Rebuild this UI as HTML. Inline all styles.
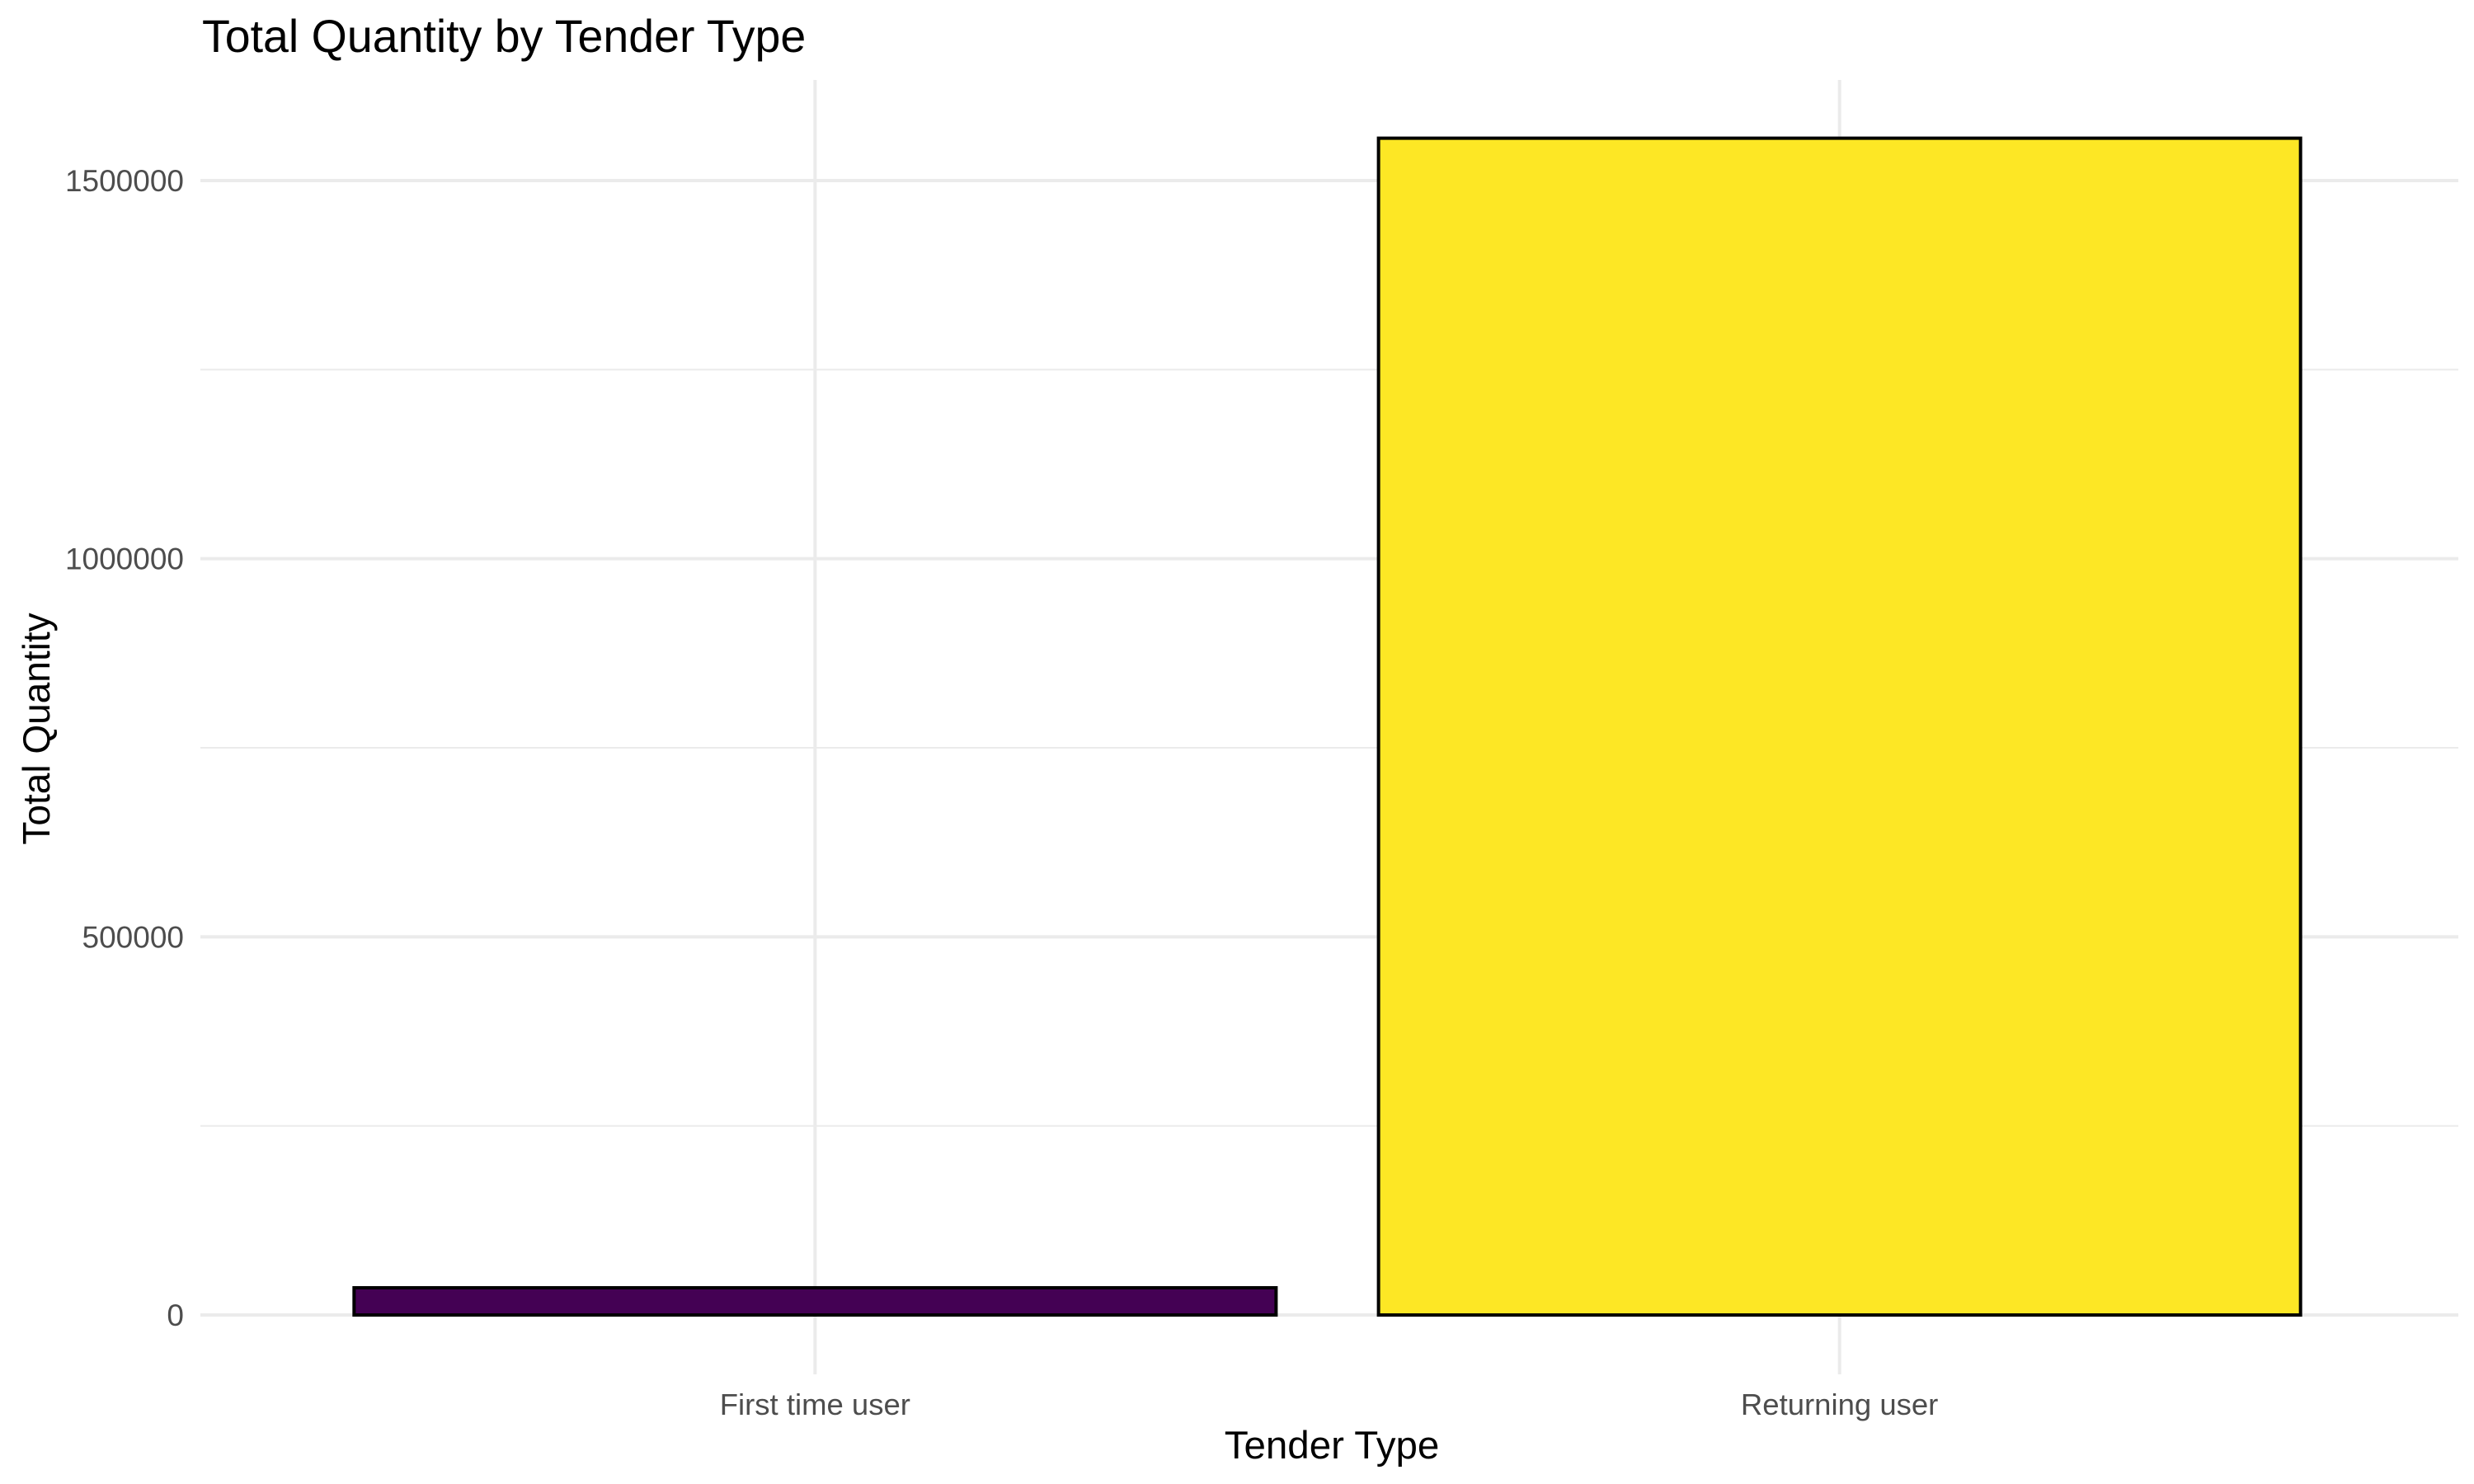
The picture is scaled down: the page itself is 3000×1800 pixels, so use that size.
<!DOCTYPE html>
<html><head><meta charset="utf-8"><style>
html,body{margin:0;padding:0;background:#fff}
svg{display:block;font-family:"Liberation Sans",Arial,sans-serif}
</style></head><body>
<svg id="chart" width="3000" height="1800" viewBox="0 0 3000 1800">
<text x="245" y="63" font-size="55.5" fill="#000">Total Quantity by Tender Type</text>
<g id="grid"></g>
<g id="bars"></g>
<g id="yticks"></g>
<g id="xticks"></g>
<text x="1615" y="1769" font-size="47.5" text-anchor="middle" fill="#000">Tender Type</text>
<text transform="translate(60,884) rotate(-90)" font-size="46" text-anchor="middle" fill="#000">Total Quantity</text>
</svg>
<script>
const categories = ["First time user", "Returning user"];
const values = [36000, 1556000];
const colors = ["#440154", "#FDE725"];
const yTicks = [0, 500000, 1000000, 1500000];
const yTickLabels = ["0", "500000", "1000000", "1500000"];
const yMinor = [250000, 750000, 1250000];

const NS = "http://www.w3.org/2000/svg";
const panelL = 243, panelR = 2976, panelT = 97, panelB = 1667;
const y0 = 1595, pxPerUnit = (1595 - 219) / 1500000;
function y(v){ return y0 - v * pxPerUnit; }
const band = (panelR - panelL) / (categories.length + 0.2);
function xc(i){ return panelL + band * (0.6 + i); }
function mk(tag, attrs, parent){
  const e = document.createElementNS(NS, tag);
  for (const k in attrs) e.setAttribute(k, attrs[k]);
  parent.appendChild(e); return e;
}
const grid = document.getElementById("grid");
yMinor.forEach(v => {
  const l = mk("line", {x1: panelL, x2: 2981, y1: y(v), y2: y(v), stroke: "#ebebeb", "stroke-width": 2}, grid);
  
  
});
yTicks.forEach(v => {
  const l = mk("line", {x1: panelL, x2: 2981, y1: y(v), y2: y(v), stroke: "#ebebeb", "stroke-width": 4}, grid);
  
  
});
categories.forEach((c, i) => {
  const l = mk("line", {x1: xc(i), x2: xc(i), y1: panelT, y2: panelB, stroke: "#ebebeb", "stroke-width": 4}, grid);
  
  
});
const bars = document.getElementById("bars");
const bw = band * 0.9;
values.forEach((v, i) => {
  const r = mk("rect", {x: xc(i) - bw / 2, y: y(v), width: bw, height: y0 - y(v), fill: colors[i], stroke: "#000", "stroke-width": 4}, bars);
  
  
});
const yt = document.getElementById("yticks");
yTicks.forEach((v, i) => {
  const t = mk("text", {x: 223, y: y(v) + 13, "font-size": 37, fill: "#4d4d4d", "text-anchor": "end"}, yt);
  t.textContent = yTickLabels[i];
  
  
});
const xt = document.getElementById("xticks");
categories.forEach((c, i) => {
  const t = mk("text", {x: xc(i), y: 1716, "font-size": 36.5, fill: "#4d4d4d", "text-anchor": "middle"}, xt);
  t.textContent = c;
  
  
});
</script>
</body></html>
